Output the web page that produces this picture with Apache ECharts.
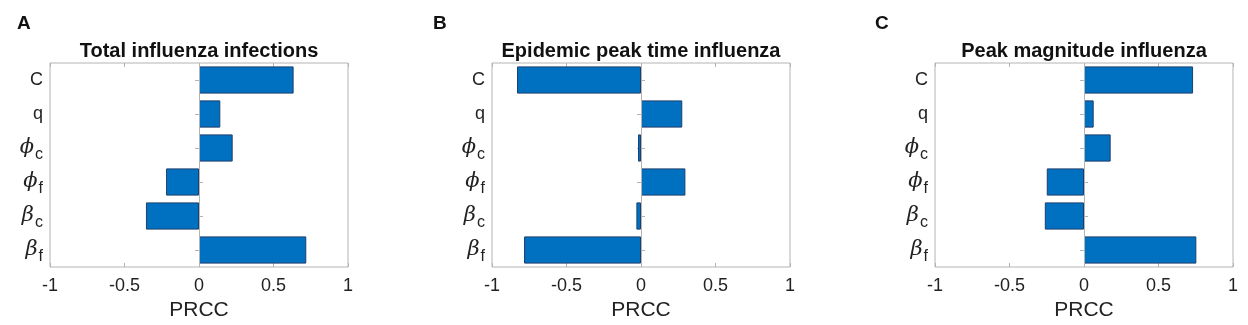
<!DOCTYPE html>
<html>
<head>
<meta charset="utf-8">
<script src="https://cdn.jsdelivr.net/npm/echarts@6/dist/echarts.min.js"></script>
<style>
  html, body { margin: 0; padding: 0; background: #fff; }
  #chart { width: 1248px; height: 325px; }
</style>
</head>
<body>
<div id="chart"></div>
<script>
// parameters, top to bottom
const categories = ['C', 'q', 'phi_c', 'phi_f', 'beta_c', 'beta_f'];
const panelLetters = ['A', 'B', 'C'];
const panelTitles = ['Total influenza infections', 'Epidemic peak time influenza', 'Peak magnitude influenza'];
const totalInfections = [0.635, 0.143, 0.226, -0.221, -0.356, 0.72];
const peakTime = [-0.832, 0.277, -0.02, 0.298, -0.031, -0.785];
const peakMagnitude = [0.732, 0.065, 0.179, -0.25, -0.263, 0.754];
const xTicks = [-1, -0.5, 0, 0.5, 1];

const panelData = [totalInfections, peakTime, peakMagnitude];
const gridLeft = [50, 492, 935];
const letterLeft = [17, 433, 875];
const gridW = 298, gridTop = 63, gridH = 204;
const boxColor = '#b4b4b4';

// greek names -> rich text
const greek = { phi: 'ϕ', beta: 'β' };
function catLabel(name) {
  const parts = name.split('_');
  if (parts.length === 1) return '{r|' + name + '}';
  return '{g|' + greek[parts[0]] + '}{s|' + parts[1] + '}';
}

const chart = echarts.init(document.getElementById('chart'));

let grid = [], xAxis = [], yAxis = [], series = [], title = [];
panelData.forEach((vals, i) => {
  grid.push({
    left: gridLeft[i], top: gridTop, width: gridW, height: gridH,
    show: true, borderColor: boxColor, borderWidth: 1, backgroundColor: '#fff',
    outerBoundsMode: 'none'
  });
  // bottom axis with labels
  xAxis.push({
    gridIndex: i, type: 'value', min: -1, max: 1, interval: 0.5, position: 'bottom',
    name: 'PRCC', nameLocation: 'middle', nameGap: 32,
    nameTextStyle: { fontFamily: 'Liberation Sans', fontSize: 21, color: '#222' },
    axisLine: { show: false },
    axisTick: { show: true, inside: true, length: 4, lineStyle: { color: boxColor } },
    axisLabel: {
      fontFamily: 'Liberation Sans', fontSize: 18, color: '#222', margin: 10,
      formatter: v => xTicks.includes(v) ? String(v) : ''
    },
    splitLine: { show: false }
  });
  // top mirror ticks
  xAxis.push({
    gridIndex: i, type: 'value', min: -1, max: 1, interval: 0.5, position: 'top',
    axisLine: { show: false },
    axisTick: { show: true, inside: true, length: 4, lineStyle: { color: boxColor } },
    axisLabel: { show: false },
    splitLine: { show: false }
  });
  yAxis.push({
    gridIndex: i, type: 'category', data: categories, inverse: true, position: 'left',
    axisLine: { show: false },
    axisTick: { show: true, inside: true, length: 4, alignWithLabel: true, lineStyle: { color: boxColor } },
    axisLabel: {
      margin: 7, color: '#222',
      formatter: catLabel,
      rich: {
        r: { fontFamily: 'Liberation Sans', fontSize: 18, color: '#222' },
        g: { fontFamily: 'DejaVu Serif', fontStyle: 'italic', fontSize: 21, color: '#222' },
        s: { fontFamily: 'Liberation Sans', fontSize: 16, color: '#222', padding: [13, 0, 0, 1] }
      }
    },
    splitLine: { show: false }
  });
  yAxis.push({
    gridIndex: i, type: 'category', data: categories, inverse: true, position: 'right',
    axisLine: { show: false },
    axisTick: { show: true, inside: true, length: 4, alignWithLabel: true, lineStyle: { color: boxColor } },
    axisLabel: { show: false },
    splitLine: { show: false }
  });
  series.push({
    type: 'bar', xAxisIndex: i * 2, yAxisIndex: i * 2, data: vals,
    barCategoryGap: '20%',
    itemStyle: { color: '#0070C0', borderColor: '#1d3f6e', borderWidth: 1 },
    markLine: {
      silent: true, symbol: 'none', label: { show: false },
      lineStyle: { color: boxColor, type: 'solid', width: 1 },
      data: [{ xAxis: 0 }]
    },
    animation: false
  });
  title.push({
    text: panelTitles[i], left: gridLeft[i] + gridW / 2, top: 41, textAlign: 'center', padding: 0,
    textStyle: { fontFamily: 'Liberation Sans', fontWeight: 'bold', fontSize: 20, color: '#111' }
  });
  title.push({
    text: panelLetters[i], left: letterLeft[i], top: 14, padding: 0,
    textStyle: { fontFamily: 'Liberation Sans', fontWeight: 'bold', fontSize: 19, color: '#111' }
  });
});

chart.setOption({
  animation: false,
  title: title,
  grid: grid,
  xAxis: xAxis,
  yAxis: yAxis,
  series: series
});
</script>
</body>
</html>
